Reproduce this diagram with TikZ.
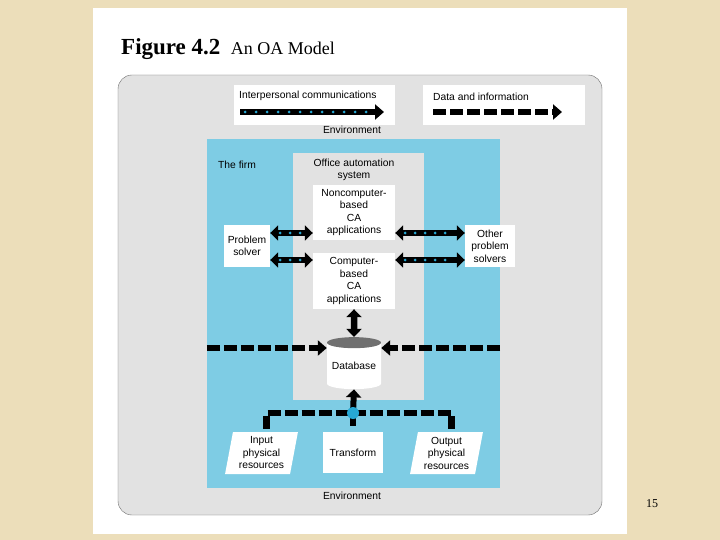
\documentclass[tikz,border=0pt]{standalone}
\usepackage{fontspec}
\setmainfont{Liberation Serif}
\setsansfont{Liberation Sans}
\usetikzlibrary{arrows.meta,positioning,shapes.geometric,calc}
\definecolor{oaParchment}{RGB}{236,222,186}
\definecolor{oaGray}{RGB}{226,226,226}
\definecolor{oaFirmBlue}{RGB}{126,204,228}
\definecolor{oaDotBlue}{RGB}{38,168,212}
\definecolor{oaEdge}{RGB}{110,110,110}
\definecolor{oaCap}{RGB}{112,112,112}

\begin{document}
\begin{tikzpicture}[x=1pt,y=-1pt,
  oatext/.style={
    align=center,
    inner sep=0pt,
    font=\sffamily\fontsize{10.3}{12.5}\selectfont
  },
  oabox/.style={
    oatext,
    fill=white
  },
  commline/.style={
    line width=6pt,
    {Triangle[length=8pt,width=15pt]}-{Triangle[length=8pt,width=15pt]},
    postaction={draw=oaDotBlue,-,line width=3pt,line cap=round,
      dash pattern=on 0pt off 10pt,shorten <=10pt,shorten >=10pt}
  },
  commarrow/.style={
    line width=6pt,
    -{Triangle[length=9pt,width=15pt]},
    postaction={draw=oaDotBlue,-,line width=3pt,line cap=round,
      dash pattern=on 0pt off 11pt,shorten <=5pt,shorten >=10pt}
  },
  dataline/.style={line width=6.5pt,dash pattern=on 13pt off 4pt},
  dataarrow/.style={dataline,-{Triangle[length=9pt,width=15pt]}}
]
  \useasboundingbox (0,0) rectangle (720,540);
  \fill[oaParchment] (0,0) rectangle (720,540);
  \fill[white] (93,8) rectangle (627,534);

  % title
  \node[anchor=base west,inner sep=0pt,font=\bfseries\fontsize{23}{26}\selectfont] (fignum) at (121,55) {Figure 4.2};
  \node[anchor=base west,inner sep=0pt,font=\fontsize{18}{21}\selectfont] (figtitle) at ([xshift=10pt]fignum.base east) {An OA Model};

  % environment and legend
  \node[draw=oaEdge,fill=oaGray,rounded corners=14pt,minimum width=484pt,minimum height=440pt] (env) at (360,295) {};
  \node[fill=white,minimum width=161pt,minimum height=40pt] (commkey) at (314.5,105) {};
  \node[oatext,anchor=west] (commtext) at (239,96) {Interpersonal communications};
  \coordinate (commfrom) at (240,112);
  \coordinate (commto) at (384,112);
  \draw[commarrow] (commfrom) -- (commto);
  \node[fill=white,minimum width=162pt,minimum height=40pt] (datakey) at (504,105) {};
  \node[oatext,anchor=west] (datatext) at (433,97) {Data and information};
  \coordinate (datafrom) at (433,112);
  \coordinate (datato) at (562,112);
  \draw[dataarrow] (datafrom) -- (datato);
  \node[oatext] (envtop) at (352,130) {Environment};
  \node[oatext] (envbottom) at (352,496) {Environment};

  % the firm
  \node[fill=oaFirmBlue,minimum width=293pt,minimum height=349pt] (firm) at (353.5,313.5) {};
  \node[oatext,anchor=west] (firmtext) at (218,165) {The firm};
  \node[fill=oaGray,minimum width=131pt,minimum height=247pt] (oas) at (358.5,276.5) {};
  \node[oatext] (oastext) at (354,170) {Office automation\\system};
  \node[oabox,minimum width=82pt,minimum height=55pt] (noncomp) at (354,212.5) {Noncomputer-\\based\\CA\\applications};
  \node[oabox,minimum width=82pt,minimum height=56pt] (comp) at (354,281) {Computer-\\based\\CA\\applications};
  \node[oabox,minimum width=46pt,minimum height=42pt] (psolver) at (247,246) {Problem\\solver};
  \node[oabox,minimum width=50pt,minimum height=42pt] (others) at (490,246) {Other\\problem\\solvers};
  \node[oatext,cylinder,shape border rotate=90,aspect=0.25,cylinder uses custom fill,
    cylinder end fill=oaCap,cylinder body fill=white,minimum width=54pt,minimum height=52pt] (db) at (354,366) {Database};
  \node[oabox,minimum width=60pt,minimum height=41pt] (trans) at (353,452.5) {Transform};
  \node[oabox,trapezium,trapezium left angle=79,trapezium right angle=101,trapezium stretches=true,
    minimum width=73pt,minimum height=42pt] (inp) at (261.5,453) {Input\\physical\\resources};
  \node[oabox,trapezium,trapezium left angle=79,trapezium right angle=101,trapezium stretches=true,
    minimum width=73pt,minimum height=42pt] (outp) at (446.5,453) {Output\\physical\\resources};
  \coordinate (junc) at (353,413);

  % communications
  \coordinate (psup) at ([yshift=13pt]psolver.east);
  \coordinate (psdown) at ([yshift=-14pt]psolver.east);
  \coordinate (opup) at ([yshift=13pt]others.west);
  \coordinate (opdown) at ([yshift=-14pt]others.west);
  \draw[commline] (psup) -- (psup -| noncomp.west);
  \draw[commline] (psdown) -- (psdown -| comp.west);
  \draw[commline] (opup -| noncomp.east) -- (opup);
  \draw[commline] (opdown -| comp.east) -- (opdown);

  % data flows
  \coordinate (dbin) at ([yshift=18pt]db.west);
  \draw[dataline,{Triangle[length=8pt,width=15pt]}-{Triangle[length=8pt,width=15pt]}] (comp.south) -- (db.north);
  \draw[dataarrow] (dbin -| firm.west) -- (dbin);
  \draw[dataarrow] (dbin -| firm.east) -- (dbin -| db.east);
  \draw[dataline,shorten <=3pt,shorten >=3pt] ([xshift=5pt]inp.north) |- (junc) -| ([xshift=5pt]outp.north);
  \draw[dataline,shorten >=2pt] (junc) -- (trans.north);
  \draw[line width=6pt,-{Triangle[length=8pt,width=15pt]}] (junc) -- (db.south);
  \node[circle,fill=oaDotBlue,inner sep=0pt,minimum size=12pt] (juncdot) at (junc) {};

  \node[font=\fontsize{12}{14}\selectfont] (pagenum) at (652,504) {15};
\end{tikzpicture}
\end{document}
